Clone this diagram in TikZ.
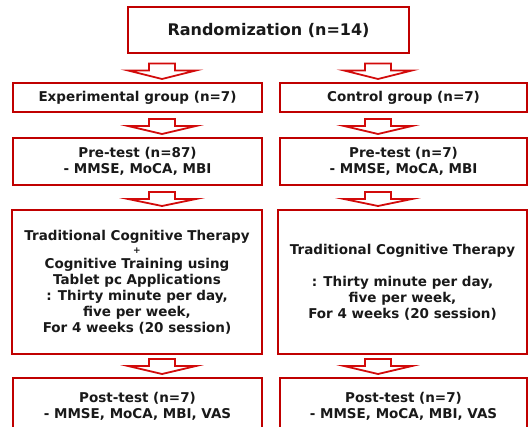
\documentclass[tikz,border=0pt]{standalone}
\usepackage{fontspec}
\setmainfont{DejaVu Sans}
\usetikzlibrary{calc}
\definecolor{boxred}{RGB}{192,0,0}
\definecolor{arrowred}{RGB}{210,10,10}
\definecolor{ink}{RGB}{25,25,25}

% Hollow block arrow running down column #1 from node #2 to node #3,
% shaft starting #4 below the upper box
\newcommand\flowarrow[4]{%
  \draw[flowarrowstyle] let \p1=(#1 |- #2.south), \p2=(#1 |- #3.north) in
    (\x1-13pt,\y1-#4) -- (\x1+13pt,\y1-#4) -- (\x1+13pt,\y1-#4-7pt)
    -- (\x1+34pt,\y1-#4-7pt) -- (\x1,\y2+3pt) -- (\x1-34pt,\y1-#4-7pt)
    -- (\x1-13pt,\y1-#4-7pt) -- cycle;}

\tikzset{
  flowbox/.style={draw=boxred, line width=2pt, fill=white, text=ink,
    align=center, inner sep=0pt, font=\bfseries\fontsize{13.5}{16}\selectfont},
  flowarrowstyle/.style={draw=arrowred, line width=1.8pt, fill=white,
    line join=miter}
}

\begin{document}
\begin{tikzpicture}[x=1pt,y=-1pt]
\useasboundingbox (0,0) rectangle (529,427);
\clip (0,0) rectangle (529,427);

% column axes of the arrows
\coordinate (colL) at (162,0);
\coordinate (colR) at (378,0);

\node[flowbox, minimum width=281pt, minimum height=46pt,
  font=\bfseries\fontsize{16}{18}\selectfont] (rand) at (268.5,30.5)
  {Randomization (n=14)};

\node[flowbox, minimum width=249pt, minimum height=29pt] (expg) at (137.5,97.5)
  {Experimental group (n=7)};
\node[flowbox, minimum width=247pt, minimum height=29pt] (ctrl) at (403.5,97.5)
  {Control group (n=7)};

\node[flowbox, minimum width=249pt, minimum height=47pt] (preE) at (137.5,161.5)
  {Pre-test (n=87)\\- MMSE, MoCA, MBI};
\node[flowbox, minimum width=247pt, minimum height=47pt] (preC) at (403.5,161.5)
  {Pre-test (n=7)\\- MMSE, MoCA, MBI};

\node[flowbox, minimum width=250pt, minimum height=144pt] (thE) at (137,282)
  {Traditional Cognitive Therapy\\[-3pt]
   {\fontsize{9}{11}\selectfont +}\\[-1pt]
   Cognitive Training using\\
   Tablet pc Applications\\
   : Thirty minute per day,\\
   five per week,\\
   For 4 weeks (20 session)};
\node[flowbox, minimum width=249pt, minimum height=144pt] (thC) at (402.5,282)
  {Traditional Cognitive Therapy\\[16pt]
   : Thirty minute per day,\\
   five per week,\\
   For 4 weeks (20 session)};

\node[flowbox, minimum width=249pt, minimum height=56pt] (postE) at (137.5,406)
  {Post-test (n=7)\\- MMSE, MoCA, MBI, VAS};
\node[flowbox, minimum width=247pt, minimum height=56pt] (postC) at (403.5,406)
  {Post-test (n=7)\\- MMSE, MoCA, MBI, VAS};

\flowarrow{colL}{rand}{expg}{9pt}
\flowarrow{colR}{rand}{ctrl}{9pt}
\flowarrow{colL}{expg}{preE}{6pt}
\flowarrow{colR}{ctrl}{preC}{6pt}
\flowarrow{colL}{preE}{thE}{6pt}
\flowarrow{colR}{preC}{thC}{6pt}
\flowarrow{colL}{thE}{postE}{4pt}
\flowarrow{colR}{thC}{postC}{4pt}
\end{tikzpicture}
\end{document}
